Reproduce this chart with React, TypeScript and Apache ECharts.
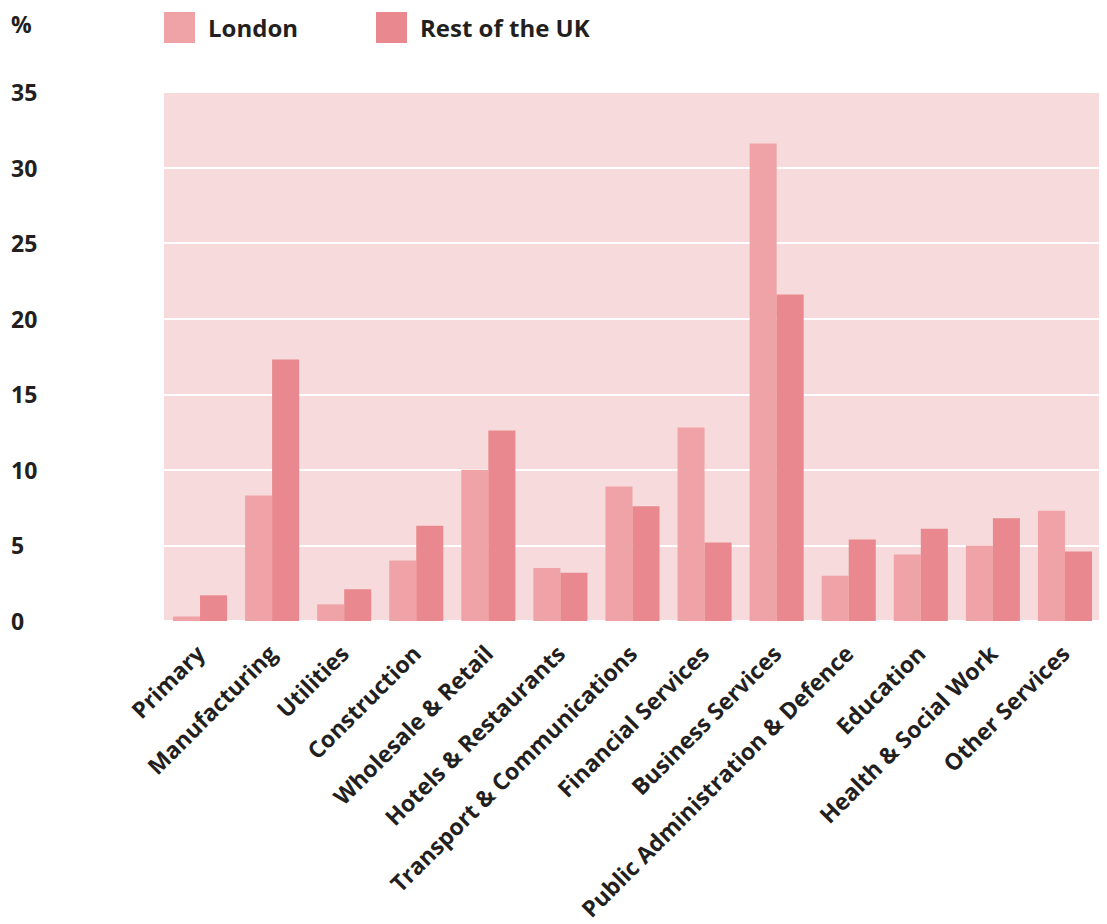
import React, { useEffect, useRef } from "react";
import * as echarts from "echarts";

const categories = [
  "Primary",
  "Manufacturing",
  "Utilities",
  "Construction",
  "Wholesale & Retail",
  "Hotels & Restaurants",
  "Transport & Communications",
  "Financial Services",
  "Business Services",
  "Public Administration & Defence",
  "Education",
  "Health & Social Work",
  "Other Services",
];

const london = [0.3, 8.3, 1.1, 4.0, 10.0, 3.5, 8.9, 12.8, 31.6, 3.0, 4.4, 5.0, 7.3];
const restOfUK = [1.7, 17.3, 2.1, 6.3, 12.6, 3.2, 7.6, 5.2, 21.6, 5.4, 6.1, 6.8, 4.6];

const yTicks = [0, 5, 10, 15, 20, 25, 30, 35];

const TEXT = "#231F20";
const FONT = "'Open Sans', 'Noto Sans', sans-serif";

export default function App() {
  const ref = useRef<HTMLDivElement>(null);

  useEffect(() => {
    if (!ref.current) return;
    const chart = echarts.init(ref.current, undefined, { renderer: "svg" });
    chart.setOption({
      animation: false,
      backgroundColor: "#ffffff",
      textStyle: { fontFamily: FONT, color: TEXT },
      title: {
        text: "%",
        left: 3,
        top: 4,
        padding: 0,
        textStyle: { fontFamily: FONT, fontSize: 23, fontWeight: "bold", color: TEXT },
      },
      legend: {
        left: 156,
        top: 4,
        padding: 0,
        itemWidth: 31,
        itemHeight: 31,
        itemGap: 78,
        icon: "rect",
        textStyle: {
          fontFamily: FONT,
          fontSize: 24,
          fontWeight: "bold",
          color: TEXT,
          padding: [0, 0, 0, 8],
        },
        data: ["London", "Rest of the UK"],
      },
      grid: {
        left: 156,
        right: 14,
        top: 84,
        bottom: 311,
        show: true,
        backgroundColor: "#F7DBDC",
        borderWidth: 0,
      },
      xAxis: {
        type: "category",
        data: categories,
        axisLine: { show: false },
        axisTick: { show: false },
        axisLabel: {
          interval: 0,
          rotate: 45,
          margin: 28,
          fontFamily: FONT,
          fontSize: 23,
          fontWeight: "bold",
          color: TEXT,
        },
      },
      yAxis: {
        type: "value",
        min: yTicks[0],
        max: yTicks[yTicks.length - 1],
        interval: 5,
        axisLine: { show: false },
        axisTick: { show: false },
        splitLine: { lineStyle: { color: "#ffffff", width: 2 } },
        axisLabel: {
          align: "left",
          margin: 153,
          fontFamily: FONT,
          fontSize: 23,
          fontWeight: "bold",
          color: TEXT,
        },
      },
      series: [
        {
          name: "London",
          type: "bar",
          data: london,
          barGap: "0%",
          barCategoryGap: "25%",
          itemStyle: { color: "#EFA3A6" },
        },
        {
          name: "Rest of the UK",
          type: "bar",
          data: restOfUK,
          barGap: "0%",
          barCategoryGap: "25%",
          itemStyle: { color: "#E9888E" },
        },
      ],
    });
    return () => chart.dispose();
  }, []);

  return <div ref={ref} style={{ width: 1107, height: 924 }} />;
}
